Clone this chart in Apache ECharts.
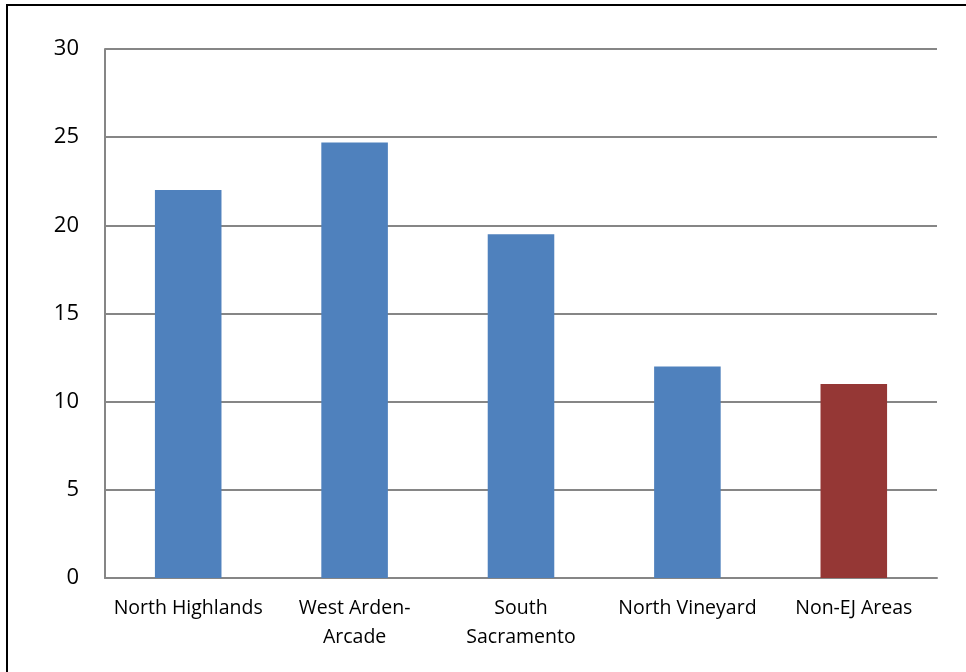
<!DOCTYPE html>
<html>
<head>
<meta charset="utf-8">
<style>
  html, body { margin: 0; padding: 0; background: #fff; }
  #chart { width: 966px; height: 672px; }
</style>
<script src="https://cdn.jsdelivr.net/npm/echarts@6/dist/echarts.min.js"></script>
</head>
<body>
<div id="chart"></div>
<script>
const categories = ['North Highlands', 'West Arden-\nArcade', 'South\nSacramento', 'North Vineyard', 'Non-EJ Areas'];
const values = [22, 24.7, 19.5, 12, 11];
const barColors = ['#4F81BD', '#4F81BD', '#4F81BD', '#4F81BD', '#953735'];
const yTicks = [0, 5, 10, 15, 20, 25, 30];

const chart = echarts.init(document.getElementById('chart'), null, { renderer: 'canvas' });
chart.setOption({
  animation: false,
  backgroundColor: '#ffffff',
  graphic: [{
    type: 'rect',
    shape: { x: 7, y: 5, width: 1200, height: 1200 },
    style: { fill: 'none', stroke: '#000', lineWidth: 2 },
    silent: true
  }],
  grid: { left: 105, right: 29, top: 49, bottom: 94, containLabel: false },
  xAxis: {
    type: 'category',
    data: categories,
    axisLine: { show: true, lineStyle: { color: '#868686', width: 2 } },
    axisTick: { show: false },
    axisLabel: {
      color: '#000', fontFamily: 'Open Sans', fontSize: 19.5, margin: 16,
      lineHeight: 29, interval: 0
    }
  },
  yAxis: {
    type: 'value',
    min: yTicks[0], max: yTicks[yTicks.length - 1], interval: 5,
    axisLine: { show: true, lineStyle: { color: '#868686', width: 2 } },
    axisTick: { show: false },
    splitLine: { show: true, lineStyle: { color: '#868686', width: 2 } },
    axisLabel: { color: '#000', fontFamily: 'Open Sans', fontSize: 22, margin: 26 }
  },
  series: [{
    type: 'bar',
    data: values.map((v, i) => ({ value: v, itemStyle: { color: barColors[i] } })),
    barWidth: '40%'
  }]
});
</script>
</body>
</html>
